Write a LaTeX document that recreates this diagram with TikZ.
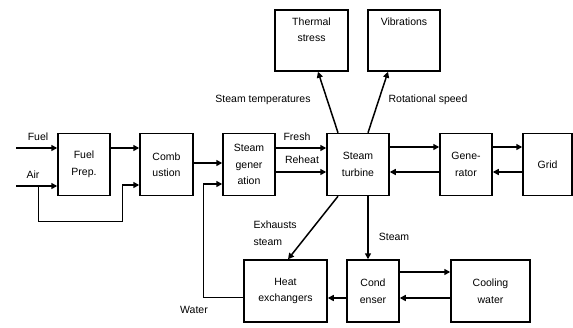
\documentclass[tikz,border=0pt]{standalone}
\usepackage{fontspec}
\setmainfont{Liberation Sans}
\usepackage{tikz}
\usetikzlibrary{arrows.meta}
\usetikzlibrary{positioning}

\begin{document}
\begin{tikzpicture}[x=1pt, y=-1pt, font=\fontsize{10.5}{16.5}\selectfont,
    block/.style={draw=black, line width=1.5pt, align=center, minimum height=62pt, inner sep=2pt},
    flow/.style={-{Triangle[length=6pt, width=6pt]}, line width=1.5pt},
    thinline/.style={line width=0.8pt}]
        \useasboundingbox (0,0) rectangle (573,327);

        % main row
        \node[block, minimum width=52pt] (fuelprep) at (84,164.5) {Fuel\\Prep.};
        \node[block, minimum width=53pt] (comb) at (166.5,164.5) {Comb\\ustion};
        \node[block, minimum width=52pt] (steamgen) at (249,164.5) {Steam\\gener\\ation};
        \node[block, minimum width=62pt] (turbine) at (358,164.5) {Steam\\turbine};
        \node[block, minimum width=52pt] (generator) at (466,164.5) {Gene-\\rator};
        \node[block, minimum width=49pt] (grid) at (547.5,164.5) {Grid};

        % top row
        \node[block, minimum width=73pt, minimum height=61pt,
            label={[anchor=north, align=center, yshift=-5pt]north:Thermal\\stress}] (thermal) at (311.5,40.5) {};
        \node[block, minimum width=72pt, minimum height=61pt,
            label={[anchor=north, yshift=-5pt]north:Vibrations}] (vibrations) at (404,40.5) {};

        % bottom row
        \node[block, minimum width=83pt] (heatex) at (285.5,291) {Heat\\exchangers};
        \node[block, minimum width=52pt] (condenser) at (373,291) {Cond\\enser};
        \node[block, minimum width=79pt] (cooling) at (490.5,291) {Cooling\\water};

        % inputs
        \coordinate (fuelin) at (16,148);
        \coordinate (airin) at (16,186);
        \coordinate (airsplit) at (38,186);
        \coordinate (bypass) at (122,185);
        \coordinate (waterbend) at (203,184);
        \node (fuellbl) at (38,137) {Fuel};
        \node (airlbl) at (33,175) {Air};
        \draw[flow] (fuelin) -- (fuelin -| fuelprep.west);
        \draw[flow] (airin) -- (airin -| fuelprep.west);
        \draw[thinline] (airsplit) |- (122,221) -- (bypass);
        \draw[flow] (bypass) -- (bypass -| comb.west);

        % main flow
        \draw[flow] ([yshift=16.5pt]fuelprep.east) -- ([yshift=16.5pt]comb.west);
        \draw[flow] ([yshift=1.5pt]comb.east) -- ([yshift=1.5pt]steamgen.west);
        \draw[flow] ([yshift=16.5pt]steamgen.east) -- ([yshift=16.5pt]turbine.west);
        \draw[flow] ([yshift=-7.5pt]steamgen.east) -- ([yshift=-7.5pt]turbine.west);
        \node (freshlbl) at (297,137) {Fresh};
        \node (reheatlbl) at (302,160) {Reheat};
        \draw[flow] ([yshift=17.5pt]turbine.east) -- ([yshift=17.5pt]generator.west);
        \draw[flow] ([yshift=-7.5pt]generator.west) -- ([yshift=-7.5pt]turbine.east);
        \draw[flow] ([yshift=17.5pt]generator.east) -- ([yshift=17.5pt]grid.west);
        \draw[flow] ([yshift=-7.5pt]grid.west) -- ([yshift=-7.5pt]generator.east);

        % measurements
        \draw[flow] ([xshift=-20pt]turbine.north) -- ([xshift=6.5pt]thermal.south);
        \draw[flow] ([xshift=10pt]turbine.north) -- ([xshift=-16pt]vibrations.south);
        \node (templbl) at (263,100) {Steam temperatures};
        \node (speedlbl) at (428,100) {Rotational speed};

        % steam side
        \draw[flow] ([xshift=-20pt]turbine.south) -- ([xshift=2.5pt]heatex.north);
        \draw[flow] ([xshift=10pt]turbine.south) -- ([xshift=10pt]turbine.south |- condenser.north);
        \node[align=left, anchor=west] (exhaustlbl) at (250,233) {Exhausts\\steam};
        \node (steamlbl) at (394,237) {Steam};
        \draw[flow] ([yshift=19pt]condenser.east) -- ([yshift=19pt]cooling.west);
        \draw[flow] ([yshift=-7pt]cooling.west) -- ([yshift=-7pt]condenser.east);
        \draw[flow] ([yshift=-7pt]condenser.west) -- ([yshift=-7pt]heatex.east);

        % feed water
        \draw[thinline] ([yshift=-6pt]heatex.west) -| (waterbend);
        \draw[flow] (waterbend) -- (waterbend -| steamgen.west);
        \node (waterlbl) at (194,310) {Water};
    \end{tikzpicture}
\end{document}
